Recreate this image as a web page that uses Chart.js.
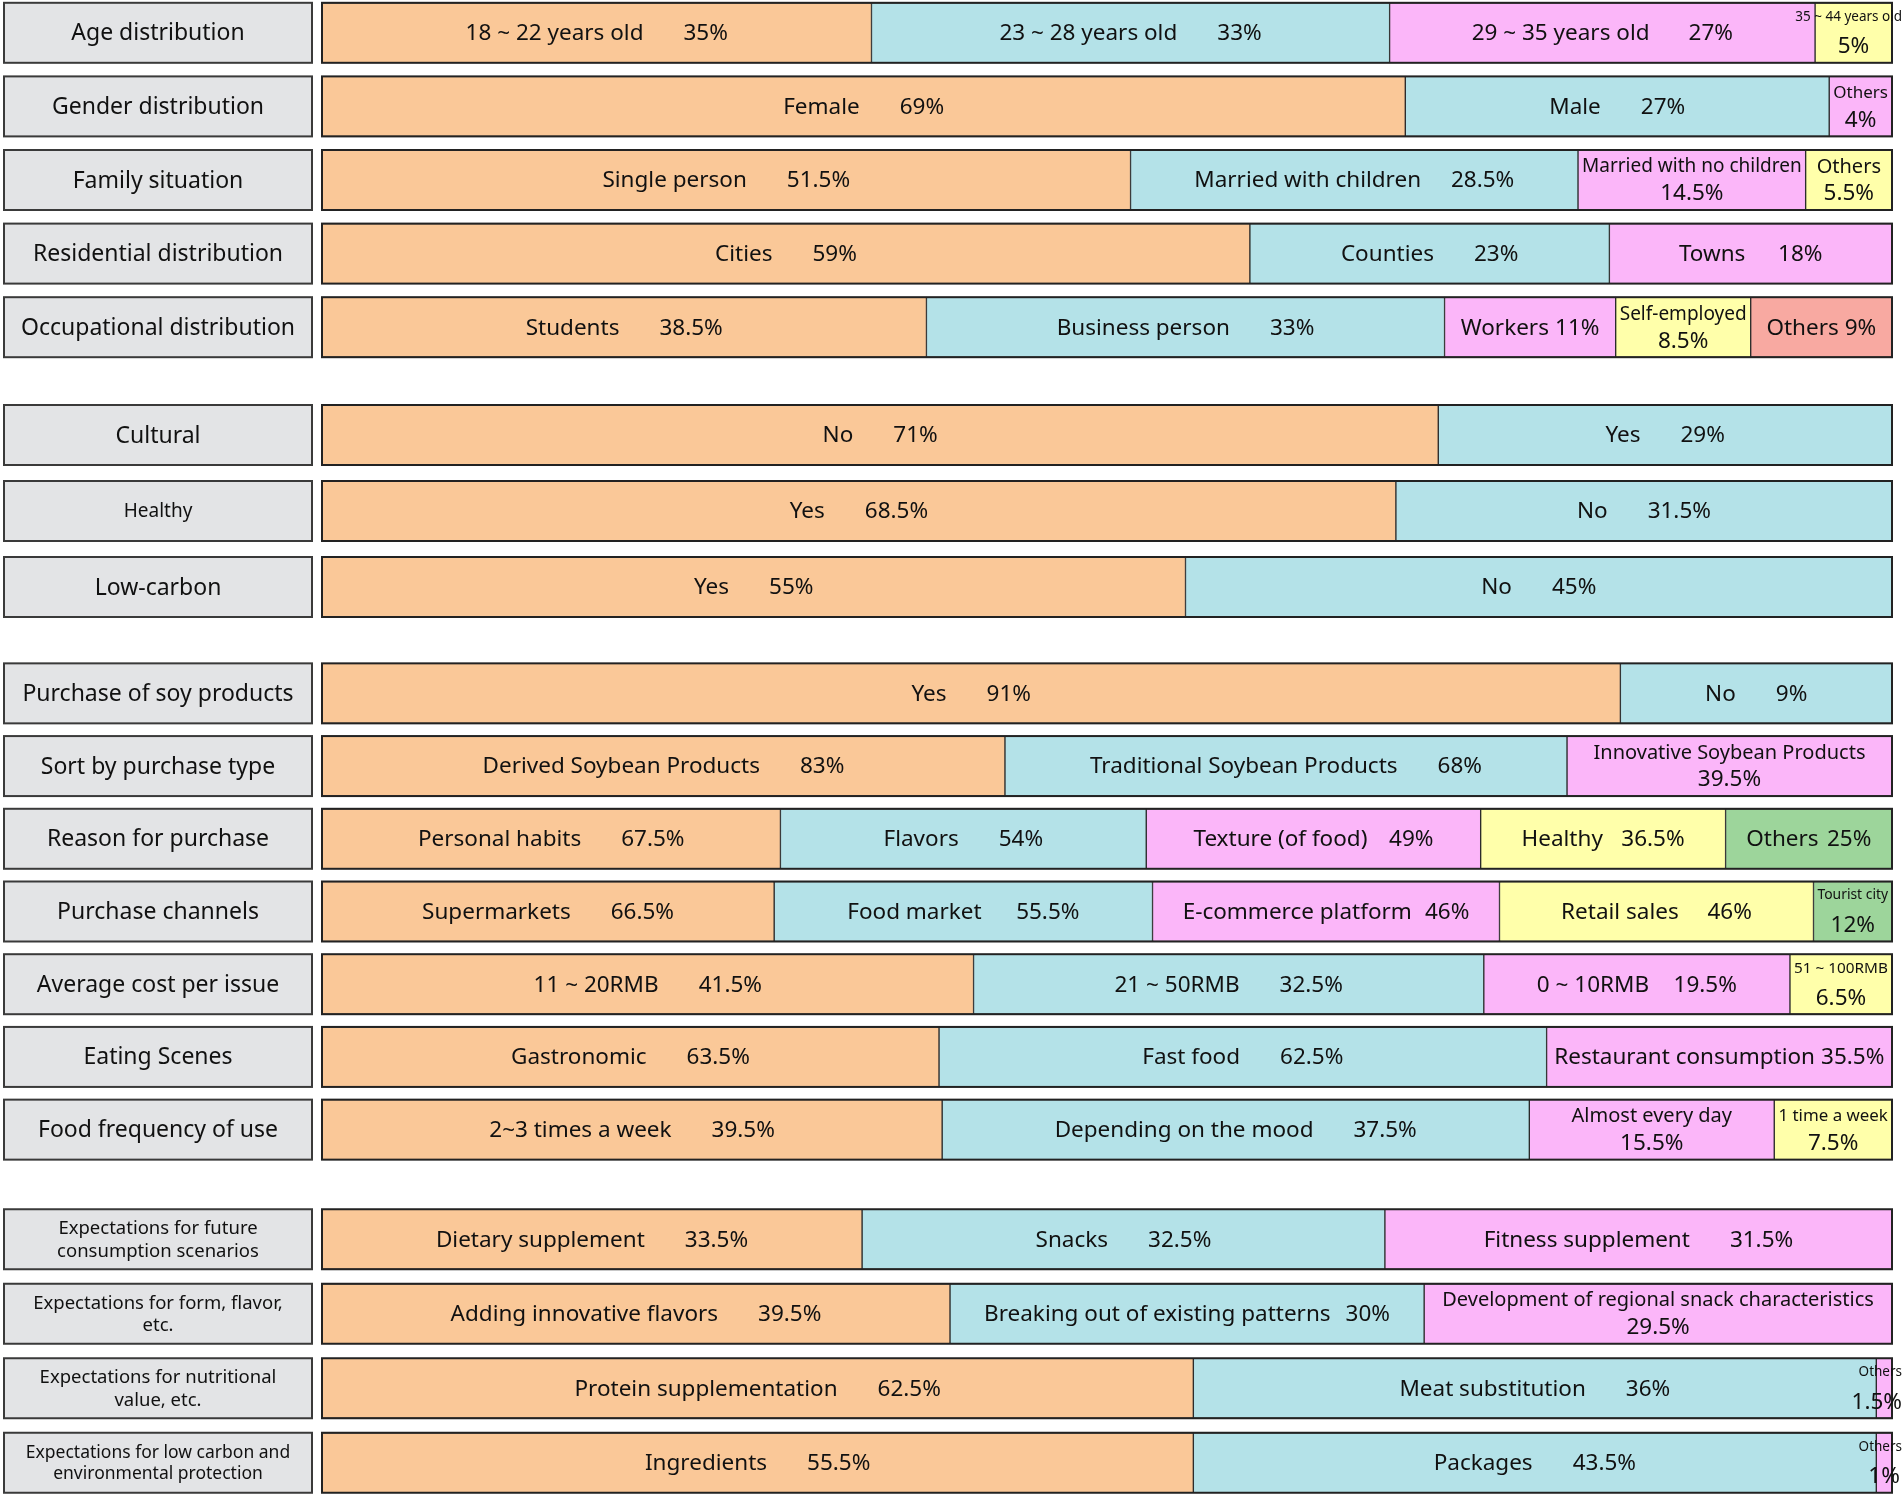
<!DOCTYPE html>
<html lang="en">
<head>
<meta charset="UTF-8">
<title>Soy product consumer survey</title>
<script src="https://cdn.jsdelivr.net/npm/chart.js"></script>
<style>
  html, body { margin: 0; padding: 0; background: #fff; }
  body { width: 1904px; height: 1496px; position: relative; overflow: hidden; }
  .grp { position: absolute; left: 0; width: 1904px; }
</style>
</head>
<body>
<div class="grp" style="top:-4px;height:368px"><canvas id="g0"></canvas></div>
<div class="grp" style="top:397px;height:228px"><canvas id="g1"></canvas></div>
<div class="grp" style="top:657px;height:509px"><canvas id="g2"></canvas></div>
<div class="grp" style="top:1202px;height:298px"><canvas id="g3"></canvas></div>
<script>
// ---- data ----
const rowLabels = [
  'Age distribution', 'Gender distribution', 'Family situation', 'Residential distribution', 'Occupational distribution',
  'Cultural', 'Healthy', 'Low-carbon',
  'Purchase of soy products', 'Sort by purchase type', 'Reason for purchase', 'Purchase channels',
  'Average cost per issue', 'Eating Scenes', 'Food frequency of use',
  'Expectations for future\nconsumption scenarios', 'Expectations for form, flavor,\netc.',
  'Expectations for nutritional\nvalue, etc.', 'Expectations for low carbon and\nenvironmental protection'
];

// rows in each block of the figure
const groupRows = [[0, 1, 2, 3, 4], [5, 6, 7], [8, 9, 10, 11, 12, 13, 14], [15, 16, 17, 18]];

// answer names inside each bar
const segNames = [
  ['18 ~ 22 years old', '23 ~ 28 years old', '29 ~ 35 years old', '35 ~ 44 years old'],
  ['Female', 'Male', 'Others'],
  ['Single person', 'Married with children', 'Married with no children', 'Others'],
  ['Cities', 'Counties', 'Towns'],
  ['Students', 'Business person', 'Workers', 'Self-employed', 'Others'],
  ['No', 'Yes'],
  ['Yes', 'No'],
  ['Yes', 'No'],
  ['Yes', 'No'],
  ['Derived Soybean Products', 'Traditional Soybean Products', 'Innovative Soybean Products'],
  ['Personal habits', 'Flavors', 'Texture (of food)', 'Healthy', 'Others'],
  ['Supermarkets', 'Food market', 'E-commerce platform', 'Retail sales', 'Tourist city'],
  ['11 ~ 20RMB', '21 ~ 50RMB', '0 ~ 10RMB', '51 ~ 100RMB'],
  ['Gastronomic', 'Fast food', 'Restaurant consumption'],
  ['2~3 times a week', 'Depending on the mood', 'Almost every day', '1 time a week'],
  ['Dietary supplement', 'Snacks', 'Fitness supplement'],
  ['Adding innovative flavors', 'Breaking out of existing patterns', 'Development of regional snack characteristics'],
  ['Protein supplementation', 'Meat substitution', 'Others'],
  ['Ingredients', 'Packages', 'Others']
];

// percentages written next to each answer
const segPercents = [
  [35, 33, 27, 5],
  [69, 27, 4],
  [51.5, 28.5, 14.5, 5.5],
  [59, 23, 18],
  [38.5, 33, 11, 8.5, 9],
  [71, 29],
  [68.5, 31.5],
  [55, 45],
  [91, 9],
  [83, 68, 39.5],
  [67.5, 54, 49, 36.5, 25],
  [66.5, 55.5, 46, 46, 12],
  [41.5, 32.5, 19.5, 6.5],
  [63.5, 62.5, 35.5],
  [39.5, 37.5, 15.5, 7.5],
  [33.5, 32.5, 31.5],
  [39.5, 30, 29.5],
  [62.5, 36, 1.5],
  [55.5, 43.5, 1]
];

// share of the bar length each segment takes, as drawn (%)
const segShares = [
  [35, 33, 27.1, 4.9],
  [69, 27, 4],
  [51.5, 28.5, 14.5, 5.5],
  [59.1, 22.9, 18],
  [38.5, 33, 10.9, 8.6, 9],
  [71.1, 28.9],
  [68.4, 31.6],
  [55, 45],
  [82.7, 17.3],
  [43.5, 35.8, 20.7],
  [29.2, 23.3, 21.3, 15.6, 10.6],
  [28.8, 24.1, 22.1, 20, 5],
  [41.5, 32.5, 19.5, 6.5],
  [39.3, 38.7, 22],
  [39.5, 37.4, 15.6, 7.5],
  [34.4, 33.3, 32.3],
  [40, 30.2, 29.8],
  [55.5, 43.5, 1],
  [55.5, 43.5, 1]
];

// ---- style ----
const FONT = '"Noto Sans", "DejaVu Sans", sans-serif';
const palette = ['#FAC898', '#B4E2E8', '#FBB6F9', '#FFFFAA'];
const fifthColor = { 4: '#F8A9A1' };   // occupational "Others"
const fifthDefault = '#9DD59B';
const labelSizes = { 6: 19, 15: 18.5, 16: 18.5, 17: 18.5, 18: 17.5 };
const SEG_SIZE = 22.5;

function segColor(r, k) {
  if (k < 4) return palette[k];
  return fifthColor[r] || fifthDefault;
}

function drawSegLabel(ctx, name, pct, left, right, cy) {
  const w = right - left;
  let cx = (left + right) / 2;
  ctx.fillStyle = '#111';
  ctx.textAlign = 'center';
  ctx.textBaseline = 'middle';
  ctx.font = SEG_SIZE + 'px ' + FONT;
  const nameW = ctx.measureText(name).width;
  const pctW = ctx.measureText(pct).width;
  const spare = w - 8 - nameW - pctW;
  if (spare >= 6) {
    const gap = Math.max(6, Math.min(40, spare * 0.2));
    const total = nameW + gap + pctW;
    const x0 = cx - total / 2;
    ctx.textAlign = 'left';
    ctx.fillText(name, x0, cy + 1);
    ctx.fillText(pct, x0 + nameW + gap, cy + 1);
    return;
  }
  // two lines: smaller name on top, percentage below
  ctx.font = '20px ' + FONT;
  const n20 = ctx.measureText(name).width;
  let size = Math.min(20, 20 * (w - 8) / n20);
  size = Math.max(13.5, size);
  ctx.font = size.toFixed(1) + 'px ' + FONT;
  const nw = ctx.measureText(name).width;
  const ncx = Math.min(cx, 1902 - nw / 2);
  ctx.fillText(name, ncx, cy - (size < 15.5 ? 16 : 13));
  ctx.font = SEG_SIZE + 'px ' + FONT;
  const pcx = Math.min(cx, 1902 - pctW / 2);
  ctx.fillText(pct, pcx, cy + 14);
}

function rowPlugin(rows) {
  return {
    id: 'rowDecor',
    afterDatasetsDraw(chart) {
      const ctx = chart.ctx, a = chart.chartArea;
      ctx.save();
      rows.forEach((r, i) => {
        const el0 = chart.getDatasetMeta(0).data[i];
        const cy = el0.y, h = el0.height;
        // left label box
        ctx.fillStyle = '#E3E4E6';
        ctx.fillRect(4, cy - h / 2, 308, h);
        ctx.strokeStyle = '#3a3a3a';
        ctx.lineWidth = 2;
        ctx.strokeRect(4, cy - h / 2, 308, h);
        const size = labelSizes[r] || 23;
        const lines = rowLabels[r].split('\n');
        ctx.fillStyle = '#111';
        ctx.font = size + 'px ' + FONT;
        ctx.textAlign = 'center';
        ctx.textBaseline = 'middle';
        const lh = size * 1.2;
        lines.forEach((ln, j) => {
          ctx.fillText(ln, 158, cy + 1 + (j - (lines.length - 1) / 2) * lh);
        });
        // frame round the bar
        ctx.strokeStyle = '#222';
        ctx.strokeRect(a.left, cy - h / 2, a.right - a.left, h);
        // segment texts
        segNames[r].forEach((nm, k) => {
          const el = chart.getDatasetMeta(k).data[i];
          const left = Math.min(el.base, el.x), right = Math.max(el.base, el.x);
          drawSegLabel(ctx, nm, segPercents[r][k] + '%', left, right, cy);
        });
      });
      ctx.restore();
    }
  };
}

function buildGroup(id, rows) {
  const datasets = [];
  for (let k = 0; k < 5; k++) {
    datasets.push({
      data: rows.map(r => segShares[r][k] ?? null),
      backgroundColor: rows.map(r => segColor(r, k)),
      borderColor: '#2a2a2a',
      borderWidth: 1,
      borderSkipped: false,
      barThickness: 60
    });
  }
  new Chart(document.getElementById(id), {
    type: 'bar',
    data: { labels: rows.map(r => rowLabels[r]), datasets },
    options: {
      indexAxis: 'y',
      responsive: true,
      maintainAspectRatio: false,
      animation: false,
      layout: { padding: { left: 322, right: 12, top: 0, bottom: 0 } },
      scales: {
        x: { stacked: true, min: 0, max: 100, display: false },
        y: { stacked: true, display: false }
      },
      plugins: { legend: { display: false }, tooltip: { enabled: false } }
    },
    plugins: [rowPlugin(rows)]
  });
}

groupRows.forEach((rows, g) => buildGroup('g' + g, rows));
</script>
</body>
</html>
